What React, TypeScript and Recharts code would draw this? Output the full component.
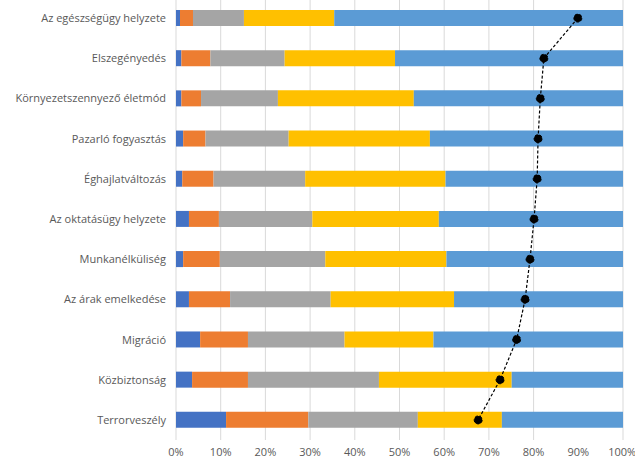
import {
    ComposedChart,
    Bar,
    Line,
    XAxis,
    YAxis,
    CartesianGrid
} from 'recharts';

const categories = [
    'Az egészségügy helyzete',
    'Elszegényedés',
    'Környezetszennyező életmód',
    'Pazarló fogyasztás',
    'Éghajlatváltozás',
    'Az oktatásügy helyzete',
    'Munkanélküliség',
    'Az árak emelkedése',
    'Migráció',
    'Közbiztonság',
    'Terrorveszély',
];

const s1 = [0.9, 1.2, 1.2, 1.6, 1.4, 2.9, 1.6, 2.9, 5.4, 3.6, 11.2];
const s2 = [2.9, 6.5, 4.4, 5.0, 7.0, 6.7, 8.2, 9.2, 10.7, 12.5, 18.4];
const s3 = [11.4, 16.6, 17.2, 18.6, 20.5, 20.9, 23.6, 22.5, 21.6, 29.3, 24.5];
const s4 = [20.2, 24.7, 30.4, 31.6, 31.4, 28.3, 27.1, 27.6, 19.9, 29.7, 18.8];
const s5 = [64.6, 51.0, 46.8, 43.2, 39.7, 41.2, 39.5, 37.8, 42.4, 24.9, 27.1];
const avg = [89.9, 82.3, 81.5, 81.0, 80.8, 80.1, 79.2, 78.1, 76.2, 72.5, 67.6];

const xTicks = [0, 10, 20, 30, 40, 50, 60, 70, 80, 90, 100];

const data = categories.map((name, i) => ({
    name,
    s1: s1[i],
    s2: s2[i],
    s3: s3[i],
    s4: s4[i],
    s5: s5[i],
    avg: avg[i],
}));

const font = '"Open Sans", "Liberation Sans", sans-serif';
const tickStyle = { fill: '#595959', fontSize: 11, fontFamily: font };

// own tick so the long label doesn't wrap onto two lines
const CategoryTick = (props: any) => {
    const { x, y, payload } = props;
    return (
        <text x={x} y={y} dy={4} textAnchor="end" fill="#595959" fontSize={11} fontFamily={font}>
            {payload.value}
        </text>
    );
};

const App = () => {
    return (
        <div style={{ position: 'absolute', left: 0, top: 0, width: 635, height: 472, background: '#fff' }}>
            <ComposedChart
                width={635}
                height={472}
                data={data}
                layout="vertical"
                margin={{ top: -2, right: 12, left: 0, bottom: 2 }}
            >
                <CartesianGrid horizontal={false} stroke="#D9D9D9" />
                <XAxis
                    type="number"
                    domain={[0, 100]}
                    ticks={xTicks}
                    tickFormatter={(v) => `${v}%`}
                    axisLine={false}
                    tickLine={false}
                    tick={tickStyle}
                    height={30}
                    allowDataOverflow
                />
                <YAxis
                    type="category"
                    dataKey="name"
                    width={176}
                    axisLine={false}
                    tickLine={false}
                    tick={<CategoryTick />}
                    tickMargin={4}
                />
                <Bar dataKey="s1" stackId="a" fill="#4472C4" barSize={16} isAnimationActive={false} />
                <Bar dataKey="s2" stackId="a" fill="#ED7D31" barSize={16} isAnimationActive={false} />
                <Bar dataKey="s3" stackId="a" fill="#A5A5A5" barSize={16} isAnimationActive={false} />
                <Bar dataKey="s4" stackId="a" fill="#FFC000" barSize={16} isAnimationActive={false} />
                <Bar dataKey="s5" stackId="a" fill="#5B9BD5" barSize={16} isAnimationActive={false} />
                <Line
                    dataKey="avg"
                    stroke="#000"
                    strokeWidth={1.2}
                    strokeDasharray="3 2"
                    dot={{ r: 4, fill: '#000', stroke: '#000', strokeWidth: 1 }}
                    isAnimationActive={false}
                />
            </ComposedChart>
        </div>
    );
};

export default App;
